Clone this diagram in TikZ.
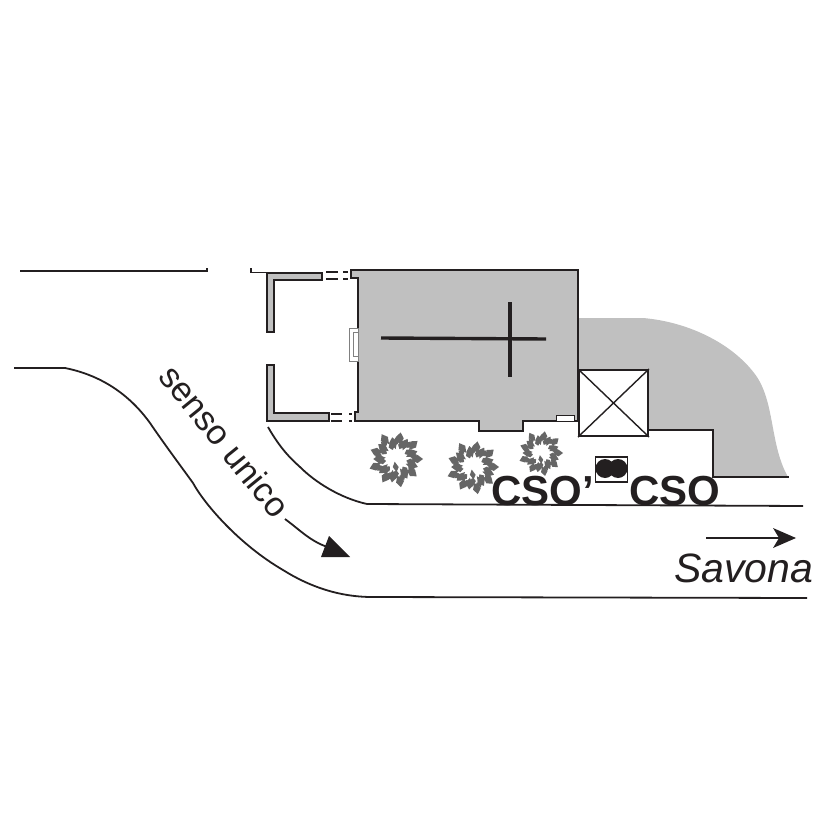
\documentclass[tikz,border=0pt]{standalone}
\usepackage{fontspec}
\setmainfont{Liberation Sans}
\usetikzlibrary{positioning}
\definecolor{plangray}{RGB}{192,192,192}
\definecolor{leafgray}{RGB}{102,102,102}
\definecolor{inkdark}{RGB}{35,31,32}
\tikzset{
	wall/.style={draw=inkdark,line width=1.8pt,fill=plangray,line join=miter},
	road/.style={draw=inkdark,line width=1.8pt},
	label/.style={text=inkdark,inner sep=0pt,font=\fontsize{40}{40}\selectfont},
	leaf/.style={fill=leafgray,draw=none},
	pics/tree/.style={code={
		\foreach \a/\r in {0/1,20/.84,40/1.04,60/.86,80/1,100/.82,120/1.06,140/.86,160/1,180/.84,200/1.04,220/.82,240/1,260/.88,280/1.06,300/.84,320/1,340/.86}{
			\fill[leaf,rotate=\a] (#1*\r,0) -- ++(-.2*#1,.15*#1) -- ++(-.26*#1,-.1*#1) -- ++(.08*#1,-.05*#1) -- ++(-.08*#1,-.05*#1) -- ++(.26*#1,-.1*#1) -- cycle;
			\fill[leaf,rotate=\a+11] (#1*\r*.8,0) -- ++(-.16*#1,.1*#1) -- ++(-.14*#1,-.1*#1) -- ++(.14*#1,-.1*#1) -- cycle;
		}
		\fill[leaf] (-.05*#1,.1*#1) -- (.1*#1,.3*#1) -- (.02*#1,.48*#1) -- (-.12*#1,.3*#1) -- cycle;
	}}
}
\begin{document}
\begin{tikzpicture}[x=1pt,y=-1pt]
	\useasboundingbox (0,0) rectangle (826,826);
	% garden
	\fill[plangray] (578,318) -- (643,318) .. controls (690,322) and (735,345) .. (757,377)
		.. controls (775,405) and (770,445) .. (788,477) -- (713,477) -- (713,430) -- (648,430) -- (578,400) -- cycle;
	\draw[road,line width=1.6pt] (648,430) -- (713,430) -- (713,477) -- (789,477);
	% church
	\draw[wall] (351,270) -- (578,270) -- (578,421) -- (523,421) -- (523,431) -- (479,431) -- (479,421)
		-- (355,421) -- (355,412) -- (358,412) -- (358,278) -- (351,278) -- cycle;
	\draw[inkdark,line width=1pt,fill=white] (556,415) rectangle (574,421);
	\draw[gray,line width=.6pt,fill=white] (349,328) rectangle (358,361);
	\draw[gray,line width=.6pt] (358,332) -- (353,332) -- (353,356) -- (358,356);
	\draw[inkdark,line width=3.4pt] (381,338) -- (546,339);
	\draw[inkdark,line width=3.4pt] (510,302) -- (510,377);
	% wings
	\draw[wall] (267,273) -- (322,273) -- (322,280) -- (274,280) -- (274,332) -- (267,332) -- cycle;
	\draw[wall] (267,365) -- (274,365) -- (274,413) -- (329,413) -- (329,421) -- (267,421) -- cycle;
	\draw[road] (251,268) -- (251,272.500) -- (267,272.500);
	\foreach \y in {272,279}{\draw[road] (326,\y) -- (338,\y);}
	\foreach \y in {272,279}{\draw[road] (343,\y) -- (348,\y);}
	\foreach \y in {414,421}{\draw[road] (331,\y) -- (342,\y);}
	\foreach \y in {414,421}{\draw[road] (349,\y) -- (352,\y);}
	% tower
	\node[draw=inkdark,line width=2pt,fill=white,minimum width=69pt,minimum height=66pt,inner sep=0pt] (tower) at (613.500,403) {};
	\draw[inkdark,line width=1.4pt] (tower.north west) -- (tower.south east) (tower.north east) -- (tower.south west);
	% roads
	\draw[road] (20,271) -- (207,271) -- (207,268);
	\draw[road] (268,427) .. controls (280,448) and (290,458) .. (300,467)
		.. controls (315,482) and (340,498) .. (367,504) -- (803,506);
	\draw[road] (14,368) -- (65,368) .. controls (105,376) and (132,398) .. (150,423)
		.. controls (165,445) and (180,465) .. (193,483)
		.. controls (205,505) and (240,545) .. (283,570)
		.. controls (310,587) and (340,597) .. (372,597) -- (807,598);
	% trees
	\pic at (396,459) {tree=27};
	\pic at (473,467) {tree=26};
	\pic at (541,453) {tree=22};
	% well
	\node[draw=inkdark,line width=1.4pt,minimum width=32pt,minimum height=25pt,inner sep=0pt] (well) at (611.500,469.500) {};
	\fill[inkdark] (605,468.500) circle (9.500pt) (618,468.500) circle (9.500pt);
	% labels
	\node[label,font=\fontsize{42}{42}\selectfont\bfseries,anchor=base west] (csob) at (491,505) {CSO’};
	\node[label,font=\fontsize{42}{42}\selectfont\bfseries,anchor=base west] (cso) at (629,505) {CSO};
	\node[label,font=\fontsize{34.5}{34.5}\selectfont,rotate=-51] (senso) at (225,441) {senso unico};
	\node[label,font=\fontsize{41}{41}\selectfont\itshape,anchor=base west] (savona) at (674,582) {Savona};
	% arrows
	\coordinate (a1) at (285,519);
	\coordinate (a2) at (331,548);
	\coordinate (b1) at (706,538);
	\coordinate (b2) at (782,538);
	\draw[road] (a1) .. controls (300,530) and (312,543) .. (a2);
	\fill[inkdark] (350,557) -- (329,536) -- (321,557) -- cycle;
	\draw[road] (b1) -- (b2);
	\fill[inkdark] (796,538) -- (773,528) -- (779,538) -- (773,548) -- cycle;
\end{tikzpicture}
\end{document}
